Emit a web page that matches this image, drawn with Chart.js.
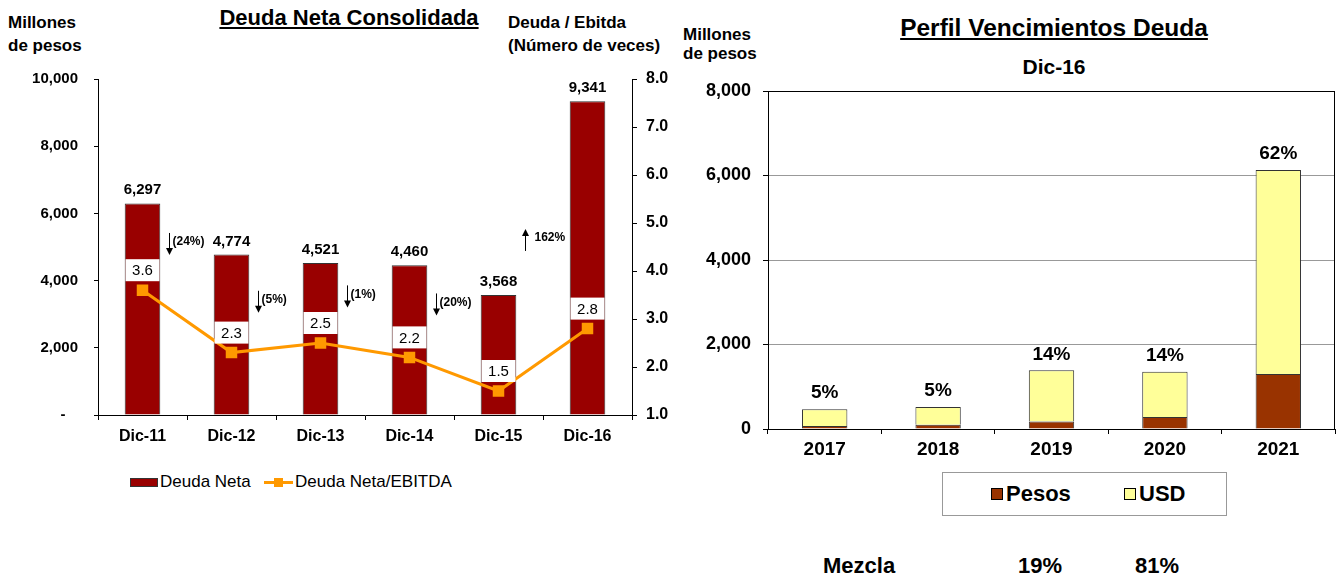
<!DOCTYPE html>
<html>
<head>
<meta charset="utf-8">
<script src="https://cdn.jsdelivr.net/npm/chart.js@4/dist/chart.umd.min.js"></script>
<style>
  html, body { margin: 0; padding: 0; background: #fff; }
  body { width: 1344px; height: 576px; position: relative; overflow: hidden;
         font-family: "Liberation Sans", Arial, sans-serif; color: #000; }
  .t { position: absolute; white-space: nowrap; font-weight: bold; }
  canvas { position: absolute; }
  #c1 { left: 0; top: 0; }
  #c2 { left: 680px; top: 0; }
  .legbox { position: absolute; left: 942px; top: 472px; width: 285px; height: 44px;
            border: 1px solid #999; box-sizing: border-box; }
  .sw { position: absolute; width: 12px; height: 12px; border: 1px solid #000; box-sizing: border-box; }
</style>
</head>
<body>
<!-- left chart texts -->
<div class="t" style="left:0;width:698px;text-align:center;top:6px;font-size:22px;line-height:24px;text-decoration:underline;">Deuda Neta Consolidada</div>
<div class="t" style="left:8px;top:11px;font-size:17px;line-height:23px;">Millones<br>de pesos</div>
<div class="t" style="left:508px;top:11px;font-size:17px;line-height:23px;">Deuda / Ebitda<br>(Número de veces)</div>

<!-- right chart texts -->
<div class="t" style="left:683px;top:25px;font-size:17px;line-height:19px;">Millones<br>de pesos</div>
<div class="t" style="left:854px;width:400px;text-align:center;top:15px;font-size:24.5px;line-height:26px;text-decoration:underline;">Perfil Vencimientos Deuda</div>
<div class="t" style="left:854px;width:400px;text-align:center;top:55px;font-size:21px;line-height:24px;">Dic-16</div>

<canvas id="c1" width="690" height="445"></canvas>
<canvas id="c2" width="664" height="464"></canvas>

<!-- left legend -->
<div style="position:absolute;left:130px;top:478px;width:28px;height:9px;background:#990000;border:1px solid #333;box-sizing:border-box;"></div>
<div style="position:absolute;left:160px;top:472px;font-size:17px;line-height:20px;">Deuda Neta</div>
<div style="position:absolute;left:264px;top:481px;width:29px;height:3px;background:#FF9900;"></div>
<div style="position:absolute;left:274px;top:478px;width:9px;height:9px;background:#FF9900;"></div>
<div style="position:absolute;left:295px;top:472px;font-size:17px;line-height:20px;">Deuda Neta/EBITDA</div>

<!-- right legend -->
<div class="legbox"></div>
<div class="sw" style="left:991px;top:488px;background:#993300;"></div>
<div class="t" style="left:1006px;top:482px;font-size:22px;line-height:24px;">Pesos</div>
<div class="sw" style="left:1124px;top:488px;background:#FFFF99;"></div>
<div class="t" style="left:1139px;top:482px;font-size:22px;line-height:24px;">USD</div>

<!-- Mezcla -->
<div class="t" style="left:823px;top:554px;font-size:22px;line-height:24px;">Mezcla</div>
<div class="t" style="left:1018px;top:554px;font-size:22px;line-height:24px;">19%</div>
<div class="t" style="left:1135px;top:554px;font-size:22px;line-height:24px;">81%</div>

<script>
// ---------- data ----------
const periods = ['Dic-11', 'Dic-12', 'Dic-13', 'Dic-14', 'Dic-15', 'Dic-16'];
const deudaNeta = [6297, 4774, 4521, 4460, 3568, 9341];
const deudaEbitda = [3.6, 2.3, 2.5, 2.2, 1.5, 2.8];
const changeLabels = ['(24%)', '(5%)', '(1%)', '(20%)', '162%'];
const changeDir = [-1, -1, -1, -1, 1];

const years = ['2017', '2018', '2019', '2020', '2021'];
const pesos = [70, 100, 180, 285, 1300];
const usd = [400, 420, 1210, 1070, 4830];
const pctLabels = ['5%', '5%', '14%', '14%', '62%'];

// annotation vertical placement (left-axis value of arrow centre)
const changeArrowAt = [5090, 3370, 3530, 3290, 5210];

const FONT = '"Liberation Sans", Arial, sans-serif';
Chart.defaults.font.family = FONT;
Chart.defaults.color = '#000';

// ---------- left chart ----------
const leftLabels = {
  id: 'leftLabels',
  afterDatasetsDraw(chart) {
    const ctx = chart.ctx;
    const xs = chart.scales.x, ys = chart.scales.y;
    ctx.save();
    // bar values
    ctx.fillStyle = '#000';
    ctx.font = 'bold 15px ' + FONT;
    ctx.textAlign = 'center';
    ctx.textBaseline = 'alphabetic';
    chart.getDatasetMeta(0).data.forEach((bar, i) => {
      ctx.fillText(deudaNeta[i].toLocaleString('en-US'), bar.x, bar.y - 9);
    });
    // line labels in white boxes
    ctx.font = '15px ' + FONT;
    ctx.textBaseline = 'middle';
    chart.getDatasetMeta(1).data.forEach((pt, i) => {
      const t = deudaEbitda[i].toFixed(1);
      const w = ctx.measureText(t).width + 13, h = 22;
      const cy = pt.y - 20;
      ctx.fillStyle = '#fff';
      ctx.fillRect(pt.x - w / 2, cy - h / 2, w, h);
      ctx.fillStyle = '#000';
      ctx.fillText(t, pt.x, cy + 1);
    });
    // change arrows
    const half = (xs.getPixelForValue(1) - xs.getPixelForValue(0)) / 2;
    changeLabels.forEach((lab, i) => {
      const x = Math.round(xs.getPixelForValue(i) + half * 0.6) + 0.5;
      const yc = ys.getPixelForValue(changeArrowAt[i]);
      const top = yc - 11, bot = yc + 11;
      ctx.strokeStyle = '#000'; ctx.fillStyle = '#000'; ctx.lineWidth = 1;
      ctx.beginPath();
      if (changeDir[i] < 0) {
        ctx.moveTo(x, top); ctx.lineTo(x, bot - 6); ctx.stroke();
        ctx.beginPath(); ctx.moveTo(x - 3.5, bot - 7); ctx.lineTo(x + 3.5, bot - 7); ctx.lineTo(x, bot); ctx.closePath(); ctx.fill();
      } else {
        ctx.moveTo(x, bot); ctx.lineTo(x, top + 6); ctx.stroke();
        ctx.beginPath(); ctx.moveTo(x - 3.5, top + 7); ctx.lineTo(x + 3.5, top + 7); ctx.lineTo(x, top); ctx.closePath(); ctx.fill();
      }
      ctx.font = 'bold 12px ' + FONT;
      ctx.textAlign = 'left';
      ctx.textBaseline = 'middle';
      ctx.fillText(lab, x + (changeDir[i] < 0 ? 3 : 9), yc - 2);
    });
    ctx.restore();
  }
};

new Chart(document.getElementById('c1'), {
  data: {
    labels: periods,
    datasets: [
      { type: 'bar', label: 'Deuda Neta', data: deudaNeta, yAxisID: 'y',
        backgroundColor: '#990000', borderColor: '#333', borderWidth: 1,
        barPercentage: 0.4, categoryPercentage: 1, order: 2 },
      { type: 'line', label: 'Deuda Neta/EBITDA', data: deudaEbitda, yAxisID: 'y1',
        borderColor: '#FF9900', backgroundColor: '#FF9900', borderWidth: 3,
        pointStyle: 'rect', pointRadius: 6, pointHoverRadius: 6, tension: 0, order: 1 }
    ]
  },
  options: {
    responsive: false, animation: false, devicePixelRatio: 1,
    layout: { padding: { top: 79, left: 0, right: 0, bottom: 0 } },
    plugins: { legend: { display: false }, tooltip: { enabled: false } },
    scales: {
      x: {
        grid: { offset: true, drawOnChartArea: false, drawTicks: true, tickLength: 5, tickColor: '#000' },
        border: { color: '#000', width: 1 },
        ticks: { font: { size: 16, weight: 'bold' }, padding: 7, color: '#000' },
        afterFit(s) { s.height = 30; }
      },
      y: {
        position: 'left', min: 0, max: 10000,
        grid: { drawOnChartArea: false, drawTicks: true, tickLength: 4, tickColor: '#000' },
        border: { color: '#000', width: 1 },
        ticks: { stepSize: 2000, padding: 16, font: { size: 15, weight: 'bold' }, color: '#000',
          callback: v => v === 0 ? '-   ' : v.toLocaleString('en-US') },
        afterFit(s) { s.width = 98; }
      },
      y1: {
        position: 'right', min: 1, max: 8,
        grid: { drawOnChartArea: false, drawTicks: true, tickLength: 5, tickColor: '#000' },
        border: { color: '#000', width: 1 },
        ticks: { stepSize: 1, padding: 9, font: { size: 16, weight: 'bold' }, color: '#000',
          callback: v => Number(v).toFixed(1) },
        afterFit(s) { s.width = 58; }
      }
    }
  },
  plugins: [leftLabels]
});

// ---------- right chart ----------
const rightLabels = {
  id: 'rightLabels',
  afterDatasetsDraw(chart) {
    const ctx = chart.ctx;
    const a = chart.chartArea;
    ctx.save();
    ctx.strokeStyle = '#000'; ctx.lineWidth = 1;
    ctx.strokeRect(Math.round(a.left) + 0.5, Math.round(a.top) + 0.5,
                   Math.round(a.right - a.left) - 1, Math.round(a.bottom - a.top));
    ctx.fillStyle = '#000';
    ctx.font = 'bold 19px ' + FONT;
    ctx.textAlign = 'center';
    ctx.textBaseline = 'middle';
    chart.getDatasetMeta(1).data.forEach((bar, i) => {
      ctx.fillText(pctLabels[i], bar.x, bar.y - 16);
    });
    ctx.restore();
  }
};

new Chart(document.getElementById('c2'), {
  type: 'bar',
  data: {
    labels: years,
    datasets: [
      { label: 'Pesos', data: pesos, backgroundColor: '#993300', borderColor: '#333', borderWidth: 1,
        barPercentage: 0.4, categoryPercentage: 1 },
      { label: 'USD', data: usd, backgroundColor: '#FFFF99', borderColor: '#333', borderWidth: 1,
        barPercentage: 0.4, categoryPercentage: 1 }
    ]
  },
  options: {
    responsive: false, animation: false, devicePixelRatio: 1,
    layout: { padding: { top: 91, left: 0, right: 9, bottom: 0 } },
    plugins: { legend: { display: false }, tooltip: { enabled: false } },
    scales: {
      x: {
        stacked: true,
        grid: { offset: true, drawOnChartArea: false, drawTicks: true, tickLength: 5, tickColor: '#000' },
        border: { color: '#000', width: 1 },
        ticks: { font: { size: 19, weight: 'bold' }, padding: 4, color: '#000' },
        afterFit(s) { s.height = 35; }
      },
      y: {
        stacked: true, min: 0, max: 8000,
        grid: { drawOnChartArea: true, drawTicks: true, tickLength: 5,
                color: c => (c.tick && (c.tick.value === 8000 || c.tick.value === 0)) ? '#000' : '#999',
                tickColor: '#000' },
        border: { color: '#000', width: 1 },
        ticks: { stepSize: 2000, padding: 12, font: { size: 18, weight: 'bold' }, color: '#000',
          callback: v => v.toLocaleString('en-US') },
        afterFit(s) { s.width = 88; }
      }
    }
  },
  plugins: [rightLabels]
});
</script>
</body>
</html>
